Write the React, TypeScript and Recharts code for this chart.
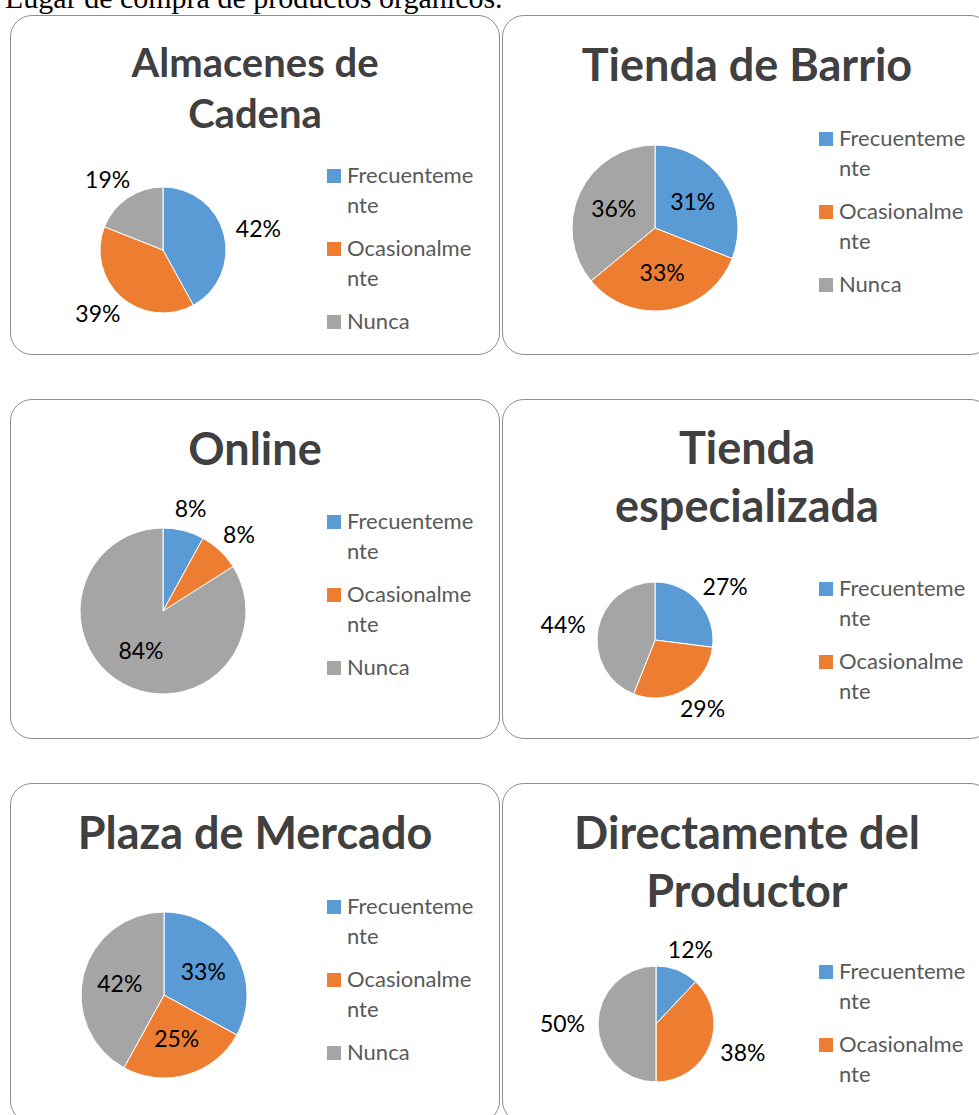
import { PieChart, Pie, Cell, Legend } from "recharts";

const categories = ["Frecuentemente", "Ocasionalmente", "Nunca"];
const colors = ["#5B9BD5", "#ED7D31", "#A5A5A5"];

const titles = [
  "Almacenes de\nCadena",
  "Tienda de Barrio",
  "Online",
  "Tienda\nespecializada",
  "Plaza de Mercado",
  "Directamente del\nProductor",
];

const almacenes = [42, 39, 19];
const tiendaBarrio = [31, 33, 36];
const online = [8, 8, 84];
const tiendaEspecializada = [27, 29, 44];
const plazaMercado = [33, 25, 42];
const productor = [12, 38, 50];

const RADIAN = Math.PI / 180;

const panels = [
  { values: almacenes, left: 10, top: 15, cx: 152, cy: 234, r: 63, titleSize: 40, titleLine: 51, titleTop: 21, legendTop: 144, legendCount: 3, placement: ["out", "out", "out"] },
  { values: tiendaBarrio, left: 502, top: 15, cx: 152, cy: 212, r: 83, titleSize: 45, titleLine: 58, titleTop: 19, legendTop: 107, legendCount: 3, placement: ["in", "in", "in"] },
  { values: online, left: 10, top: 399, cx: 152, cy: 211, r: 83, titleSize: 45, titleLine: 58, titleTop: 19, legendTop: 106, legendCount: 3, placement: ["out", "out", "in"] },
  { values: tiendaEspecializada, left: 502, top: 399, cx: 152, cy: 240, r: 58, titleSize: 45, titleLine: 58, titleTop: 18, legendTop: 173, legendCount: 2, placement: ["out", "out", "out"] },
  { values: plazaMercado, left: 10, top: 783, cx: 153, cy: 211, r: 83, titleSize: 45, titleLine: 58, titleTop: 19, legendTop: 107, legendCount: 3, placement: ["in", "in", "in"] },
  { values: productor, left: 502, top: 783, cx: 153, cy: 240, r: 58, titleSize: 45, titleLine: 58, titleTop: 19, legendTop: 172, legendCount: 2, placement: ["out", "out", "out"] },
];

const makeLabel = (placement: string[]) => (props: any) => {
  const { cx, cy, midAngle, outerRadius, value, index } = props;
  const cos = Math.cos(-midAngle * RADIAN);
  const sin = Math.sin(-midAngle * RADIAN);
  const text = `${value}%`;
  let x: number;
  let y: number;
  if (placement[index] === "in") {
    x = cx + outerRadius * 0.55 * cos;
    y = cy + outerRadius * 0.55 * sin;
  } else {
    const w = text.length * 15;
    const h = 18;
    const rr = outerRadius + 13;
    x = cx + rr * cos + (cos * w) / 2;
    y = cy + rr * sin + (sin * h) / 2;
  }
  return (
    <text
      x={x}
      y={y}
      dy="0.35em"
      textAnchor="middle"
      fill="#000"
      fontSize={23}
      fontFamily="Lato"
    >
      {text}
    </text>
  );
};

const makeLegend = (count: number) => (props: any) => {
  const items = [...(props.payload || [])]
    .sort((a: any, b: any) => categories.indexOf(a.value) - categories.indexOf(b.value))
    .slice(0, count);
  return (
    <div>
      {items.map((item: any) => {
        const i = categories.indexOf(item.value);
        return (
          <div key={item.value} style={{ display: "flex", marginBottom: 13 }}>
            <div
              style={{
                width: 14,
                height: 14,
                background: colors[i],
                marginTop: 9,
                marginRight: 6,
                flex: "none",
              }}
            />
            <div
              style={{
                width: 132,
                wordBreak: "break-all",
                lineHeight: "30px",
                fontSize: 22,
                color: "#595959",
                fontFamily: "Lato",
              }}
            >
              {item.value}
            </div>
          </div>
        );
      })}
    </div>
  );
};

function PiePanel({ index }: { index: number }) {
  const p = panels[index];
  const data = categories.map((name, i) => ({
    name,
    value: p.values[i],
    fill: colors[i],
  }));
  return (
    <div
      style={{
        position: "absolute",
        left: p.left,
        top: p.top,
        width: 490,
        height: 340,
        border: "1px solid #8e8e8e",
        borderRadius: 22,
        boxSizing: "border-box",
        overflow: "hidden",
        background: "#fff",
      }}
    >
      <div
        style={{
          position: "absolute",
          left: 0,
          top: p.titleTop,
          width: "100%",
          textAlign: "center",
          fontFamily: "Lato",
          fontWeight: 700,
          fontSize: p.titleSize,
          lineHeight: `${p.titleLine}px`,
          color: "#404040",
          whiteSpace: "pre-line",
        }}
      >
        {titles[index]}
      </div>
      <div style={{ position: "absolute", left: 0, top: 0 }}>
        <PieChart
          width={490}
          height={340}
          margin={{ top: 0, right: 0, bottom: 0, left: 0 }}
        >
          <Pie
            data={data}
            dataKey="value"
            nameKey="name"
            cx={p.cx}
            cy={p.cy}
            outerRadius={p.r}
            startAngle={90}
            endAngle={-270}
            stroke="#fff"
            strokeWidth={1}
            label={makeLabel(p.placement)}
            labelLine={false}
            isAnimationActive={false}
          >
            {data.map((d, i) => (
              <Cell key={d.name} fill={colors[i]} />
            ))}
          </Pie>
          <Legend
            layout="vertical"
            align="right"
            verticalAlign="top"
            content={makeLegend(p.legendCount)}
            wrapperStyle={{ left: 316, top: p.legendTop, width: 165 }}
          />
        </PieChart>
      </div>
    </div>
  );
}

export default function App() {
  return (
    <div
      style={{
        position: "absolute",
        left: 0,
        top: 0,
        width: 979,
        height: 1115,
        overflow: "hidden",
        background: "#fff",
      }}
    >
      <div
        style={{
          position: "absolute",
          left: 5,
          top: -17,
          fontFamily: '"Liberation Serif", serif',
          fontSize: 30,
          lineHeight: 1,
          whiteSpace: "nowrap",
          color: "#000",
        }}
      >
        Lugar de compra de productos orgánicos.
      </div>
      {panels.map((_, i) => (
        <PiePanel key={i} index={i} />
      ))}
    </div>
  );
}
